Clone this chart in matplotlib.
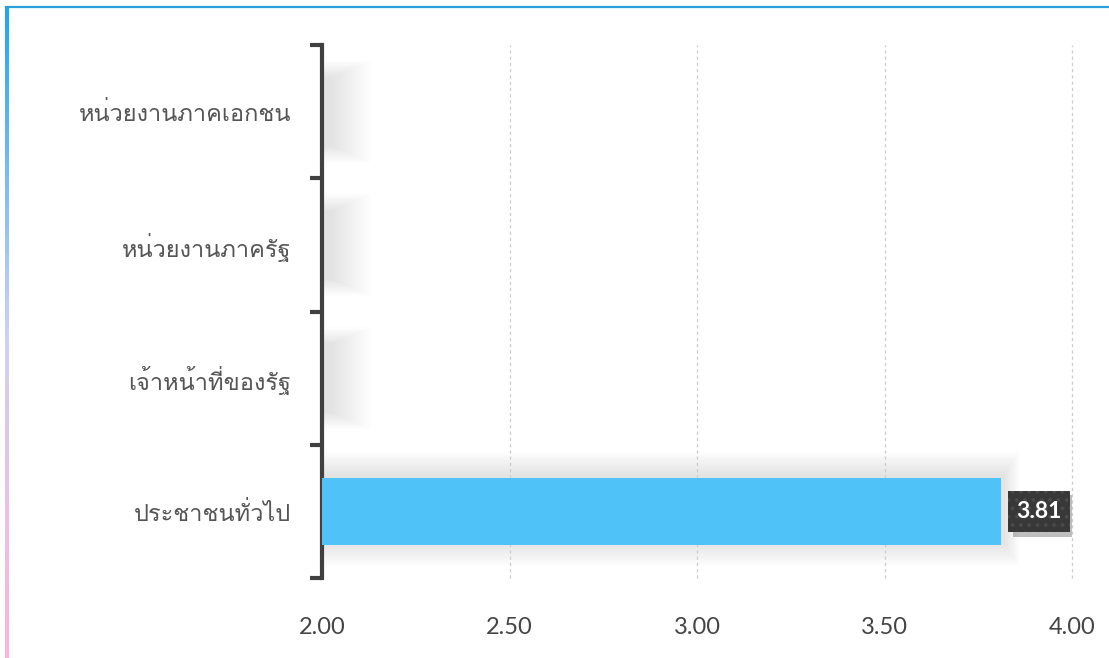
import matplotlib
matplotlib.use("Agg")
import matplotlib.pyplot as plt
import numpy as np
from matplotlib import font_manager
from matplotlib.ft2font import FT2Font
from matplotlib.patches import Rectangle
from matplotlib.lines import Line2D
from matplotlib.colors import LinearSegmentedColormap

categories = ["ประชาชนทั่วไป", "เจ้าหน้าที่ของรัฐ", "หน่วยงานภาครัฐ", "หน่วยงานภาคเอกชน"]
values = [3.81, np.nan, np.nan, np.nan]
x_ticks = [2.00, 2.50, 3.00, 3.50, 4.00]
x_tick_labels = ["2.00", "2.50", "3.00", "3.50", "4.00"]


def find_thai_font():
    # look for any installed font that has Thai glyphs
    seen = set()
    for f in font_manager.fontManager.ttflist:
        if f.name in seen:
            continue
        seen.add(f.name)
        try:
            cmap = FT2Font(f.fname).get_charmap()
        except Exception:
            continue
        if 0x0E2B in cmap and 0x0E0A in cmap:
            return f.name
    return None


thai = find_thai_font()
thai_fam = ([thai] if thai else []) + ["DejaVu Sans"]
plt.rcParams["font.family"] = ["Lato", "DejaVu Sans"]
plt.rcParams["hatch.linewidth"] = 1.5

fig = plt.figure(figsize=(11.09, 6.58), dpi=100)
ax = fig.add_axes([322 / 1109, 80 / 658, 750 / 1109, 533 / 658])

y = np.arange(len(categories))

# soft blurred shadows behind bars
n = 14
for yi, v in zip(y, values):
    if np.isnan(v):
        # empty row: faint blob beside the axis
        for k in range(n):
            f = k / (n - 1)
            ax.add_patch(Rectangle((2.0, yi - 0.38 + 0.12 * f), 0.13 - 0.1 * f, 0.76 - 0.24 * f,
                                   color="black", alpha=0.006, lw=0, zorder=1))
    else:
        for k in range(n):
            f = k / (n - 1)
            pad = 0.18 - 0.17 * f
            ax.add_patch(Rectangle((2.0, yi - 0.25 - pad + 0.02), v - 2.0 + 0.04 * (1 - f) + 0.01,
                                   0.5 + 2 * pad, color="black", alpha=0.009, lw=0, zorder=1))

ax.barh(y, values, left=0, height=0.5, color="#4fc3f7", zorder=3)

ax.set_xlim(2.0, 4.0)
ax.set_ylim(-0.5, len(categories) - 0.5)

ax.set_xticks(x_ticks)
ax.set_xticklabels(x_tick_labels)
ax.set_yticks(y)
ax.set_yticklabels(categories, family=thai_fam)
ax.tick_params(axis="x", length=0, pad=28, labelsize=17, labelcolor="#444444")
ax.tick_params(axis="y", length=0, pad=22, labelsize=17, labelcolor="#555555")
for t in ax.get_yticklabels():
    t.set_fontweight("light")

# category boundary ticks
ax.set_yticks(np.arange(len(categories) + 1) - 0.5, minor=True)
ax.tick_params(axis="y", which="minor", length=9, width=3, color="#404040", direction="out")

ax.grid(axis="x", color="#cccccc", linestyle=(0, (2.5, 2.5)), linewidth=0.9, zorder=0)
for gl in ax.get_xgridlines():
    gl.set_clip_on(False)
for s in ["top", "right", "bottom"]:
    ax.spines[s].set_visible(False)
ax.spines["left"].set_linewidth(3)
ax.spines["left"].set_color("#404040")

# value label: dark dotted box with drop shadow
box_w, box_h = 0.165, 0.31
for yi, v in zip(y, values):
    if np.isnan(v):
        continue
    x0 = v + 0.02
    ax.add_patch(Rectangle((x0 + 0.012, yi - box_h / 2 - 0.035), box_w, box_h,
                           color="black", alpha=0.25, lw=0, zorder=5))
    ax.add_patch(Rectangle((x0, yi - box_h / 2), box_w, box_h, facecolor="#383838",
                           edgecolor="#4a4a4a", hatch="..", lw=0, zorder=6))
    ax.text(x0 + box_w / 2, yi, f"{v:.2f}", ha="center", va="center", fontsize=16.5,
            fontweight="bold", color="white", zorder=7)

# frame: top blue line, left gradient line
fig.add_artist(Line2D([6 / 1109, 1.0], [1 - 7 / 658, 1 - 7 / 658], color="#2a9fd8", lw=1.6))
grad = np.linspace(0, 1, 100).reshape(-1, 1)
cm = LinearSegmentedColormap.from_list("edge", ["#1ea8ee", "#cfd0f5", "#ffb3dc"])
gax = fig.add_axes([4.5 / 1109, 0, 3 / 1109, 1 - 7 / 658])
gax.imshow(grad, aspect="auto", cmap=cm, extent=[0, 1, 0, 1], origin="upper")
gax.axis("off")

fig.savefig("out.png", dpi=100)
